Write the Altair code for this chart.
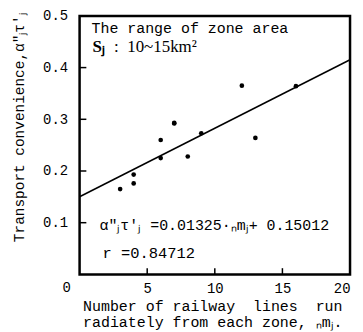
import altair as alt
import pandas as pd

# data
lines_x = [3, 4, 4, 6, 6, 7, 7, 8, 9, 12, 13, 16]
conv_y = [0.165, 0.176, 0.193, 0.260, 0.225, 0.293, 0.292, 0.228, 0.273, 0.365, 0.264, 0.364]
slope = 0.01325
intercept = 0.15012
line_x = [0, 20]
x_ticks = [5, 10, 15, 20]
y_ticks = [0.1, 0.2, 0.3, 0.4, 0.5]
inner_x_ticks = [5, 10, 15]
inner_y_ticks = [0.1, 0.2, 0.3, 0.4]

MONO = "Liberation Mono"
SERIF = "Liberation Serif"
NB = "\u00a0"

pts = pd.DataFrame({"x": lines_x, "y": conv_y})
reg = pd.DataFrame({"x": line_x, "y": [intercept + slope * v for v in line_x]})

xs = alt.Scale(domain=[0, 20], nice=False, zero=False)
ys = alt.Scale(domain=[0, 0.5], nice=False, zero=False)

x_axis = alt.Axis(
    values=x_ticks, format="d", ticks=False, domain=False, grid=False,
    labelFont=MONO, labelFontSize=14, labelPadding=7, labelColor="black",
    title=["Number of railway" + NB * 2 + "lines" + NB * 2 + "run",
           "radiately from each zone, \u2099m\u2c7c."],
    titleFont=MONO, titleFontSize=15, titleFontWeight="normal", titleColor="black",
    titleX=3, titleY=24, titleAlign="left", titleAnchor="start", titleBaseline="top",
    titleLineHeight=16,
)
y_axis = alt.Axis(
    values=y_ticks, format=".1f", ticks=False, domain=False, grid=False,
    labelFont=MONO, labelFontSize=14, labelPadding=12, labelColor="black",
    title="Transport convenience,\u03b1\u2033\u2c7c\u03c4\u2032\u2c7c",
    titleFont=MONO, titleFontSize=14.5, titleFontWeight="normal", titleColor="black",
    titleX=-60, titleY=112, titleAlign="center", titleBaseline="middle",
)

points = alt.Chart(pts).mark_point(filled=True, size=22, color="black", opacity=1).encode(
    x=alt.X("x:Q", scale=xs, axis=x_axis),
    y=alt.Y("y:Q", scale=ys, axis=y_axis),
)

regline = alt.Chart(reg).mark_line(color="black", strokeWidth=1.5).encode(
    x=alt.X("x:Q", scale=xs), y=alt.Y("y:Q", scale=ys)
)

yt = pd.DataFrame({"y": inner_y_ticks, "x": [0] * 4, "x2": [0.5] * 4})
ytick = alt.Chart(yt).mark_rule(color="black", strokeWidth=1.5).encode(
    x=alt.X("x:Q", scale=xs), x2="x2:Q", y=alt.Y("y:Q", scale=ys)
)
xt = pd.DataFrame({"x": inner_x_ticks, "y": [0] * 3, "y2": [0.012] * 3})
xtick = alt.Chart(xt).mark_rule(color="black", strokeWidth=1.5).encode(
    x=alt.X("x:Q", scale=xs), y=alt.Y("y:Q", scale=ys), y2="y2:Q"
)

def label(text, x, y, font, size, weight="normal", align="left", dx=0, dy=0):
    df = pd.DataFrame({"x": [x], "y": [y], "t": [text]})
    return alt.Chart(df).mark_text(
        font=font, fontSize=size, fontWeight=weight, align=align,
        baseline="middle", color="black", dx=dx, dy=dy,
    ).encode(x=alt.X("x:Q", scale=xs), y=alt.Y("y:Q", scale=ys), text="t:N")

texts = [
    label("The range of zone area", 0.88, 0.477, MONO, 15),
    label("S\u2c7c", 0.96, 0.44, SERIF, 17, weight="bold"),
    label(":" + NB * 2 + "10~15km\u00b2", 2.55, 0.44, SERIF, 17),
    label("\u03b1\u2033\u2c7c\u03c4\u2032\u2c7c =0.01325\u00b7\u2099m\u2c7c+ 0.15012", 1.47, 0.096, MONO, 15),
    label("r =0.84712", 1.69, 0.042, MONO, 15.5),
    label("0", 0, 0, MONO, 14, align="center", dx=-13, dy=14),
]

chart = alt.layer(points, regline, ytick, xtick, *texts).properties(
    width=272, height=260, autosize="none",
    padding={"left": 72, "top": 7, "right": 5, "bottom": 57},
).configure_view(stroke="black", strokeWidth=2.5)

chart.save("out.html", embed_options={"renderer": "svg", "actions": False})
